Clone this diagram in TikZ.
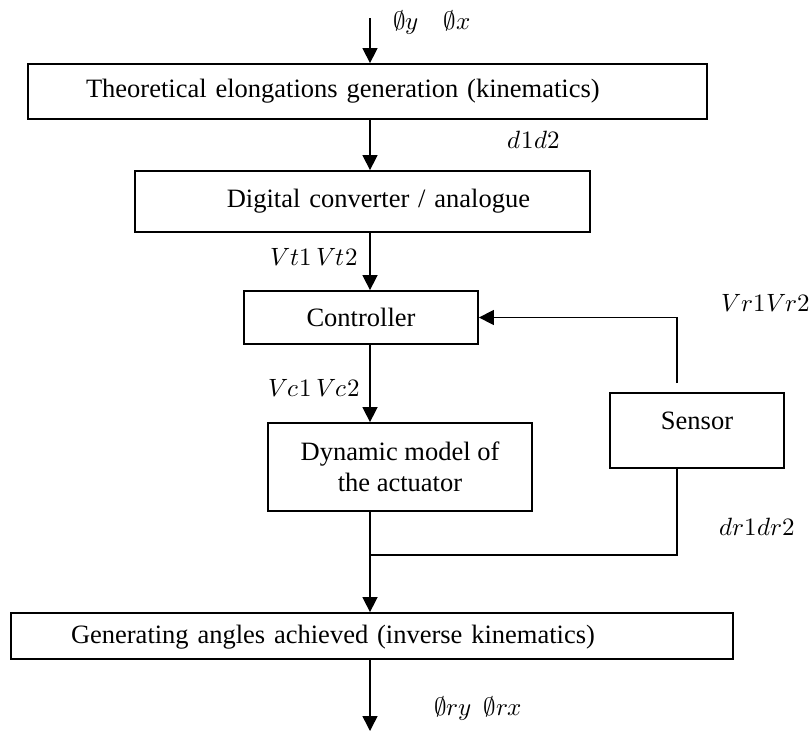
\documentclass[tikz,border=0pt]{standalone}
\usepackage{fontspec}
\usepackage{unicode-math}
\setmainfont{Liberation Serif}
\setmathfont{Latin Modern Math}
\usetikzlibrary{arrows.meta,positioning,calc}

\begin{document}
\begin{tikzpicture}[x=1pt,y=-1pt,
		blockbox/.style={draw, line width=1.8pt, inner sep=0pt, align=center, font=\fontsize{26.5}{31}\selectfont},
		flow/.style={line width=1.5pt, -{Triangle[length=15pt,width=15pt]}},
		wire/.style={line width=1.5pt},
		sig/.style={inner sep=0pt, font=\fontsize{25}{30}\selectfont}]
		\useasboundingbox (0,0) rectangle (810,731);

		\node[blockbox, minimum width=679pt, minimum height=55pt, text width=563pt, align=left] (theo) at (367.5,91.5) {Theoretical elongations generation (kinematics)};
		\node[blockbox, minimum width=455pt, minimum height=61pt, text width=335pt, align=right] (dac) at (362.5,201.5) {Digital converter / analogue};
		\node[blockbox, minimum width=234pt, minimum height=53pt] (ctrl) at (361,317.5) {Controller};
		\node[blockbox, minimum width=264pt, minimum height=88pt] (dyn) at (400,467) {Dynamic model of\\the actuator};
		\node[blockbox, minimum width=174pt, minimum height=75pt, text depth=20pt] (sensor) at (697,430.5) {Sensor};
		\node[blockbox, minimum width=722pt, minimum height=46pt, text width=602pt, align=left, text depth=4pt] (inv) at (372,636) {Generating angles achieved (inverse kinematics)};

		\coordinate (in) at (370,18);
		\coordinate (out) at (370,731);
		\coordinate (fbx) at (677,383);
		\coordinate (junc) at (370,555);

		\draw[flow] (in) -- (in |- theo.north);
		\draw[flow] (in |- theo.south) -- (in |- dac.north);
		\draw[flow] (in |- dac.south) -- (in |- ctrl.north);
		\draw[flow] (in |- ctrl.south) -- (in |- dyn.north);
		\draw[flow] (in |- dyn.south) -- (in |- inv.north);
		\draw[flow] (in |- inv.south) -- (out);
		\draw[wire] (fbx |- sensor.south) |- (junc);
		\draw[flow] (fbx) |- (ctrl.east);

		\node[sig] (phi) at (432,22) {$\emptyset y\quad \emptyset x$};
		\node[sig] (d) at (534,140) {$d1d2$};
		\node[sig] (vt) at (314,257) {$Vt1\,Vt2$};
		\node[sig] (vr) at (766,303) {$Vr1Vr2$};
		\node[sig] (vc) at (314,388) {$Vc1\,Vc2$};
		\node[sig] (dr) at (757,527) {$dr1dr2$};
		\node[sig] (phir) at (478,708) {$\emptyset ry\enspace \emptyset rx$};
	\end{tikzpicture}
\end{document}
